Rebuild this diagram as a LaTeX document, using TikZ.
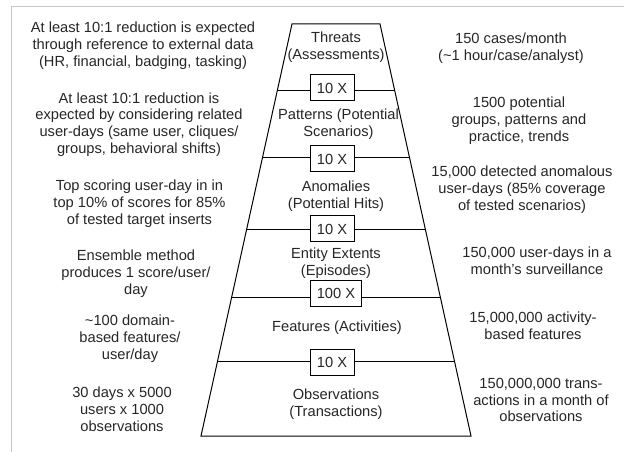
\documentclass[tikz,border=0pt]{standalone}
\usepackage{fontspec}
\setmainfont{Liberation Sans}
\usetikzlibrary{calc}

\tikzset{every picture/.style={line width=0.75pt}}
\tikzset{
  lbl/.style={align=center, inner sep=0.75pt, text=black!85, font=\fontsize{11}{12.6}\selectfont},
  ratiobox/.style={draw, fill=white, inner sep=0pt, minimum width=33pt, minimum height=19.5pt, text=black!85, font=\fontsize{11}{12.6}\selectfont},
}

\begin{document}
\begin{tikzpicture}[x=0.75pt,y=0.75pt,yscale=-1,xscale=1]
    \useasboundingbox (0,0) rectangle (624,452);

    %Frame lines
    \draw [color={rgb, 255:red, 200; green, 200; blue, 200 }] (11.5,452) -- (11.5,7) -- (624,7) ;

    %Trapezoid
    \coordinate (tl) at (292,24);
    \coordinate (tr) at (380,24);
    \coordinate (bl) at (201,436);
    \coordinate (br) at (471,436);
    \draw (tl) -- (tr) -- (br) -- (bl) -- cycle ;

    %Edge points of the dividers
    \coordinate (l1) at ($(tl)!0.162!(bl)$);
    \coordinate (r1) at ($(tr)!0.162!(br)$);
    \coordinate (l2) at ($(tl)!0.325!(bl)$);
    \coordinate (r2) at ($(tr)!0.325!(br)$);
    \coordinate (l3) at ($(tl)!0.5!(bl)$);
    \coordinate (r3) at ($(tr)!0.5!(br)$);
    \coordinate (l4) at ($(tl)!0.665!(bl)$);
    \coordinate (r4) at ($(tr)!0.665!(br)$);
    \coordinate (l5) at ($(tl)!0.820!(bl)$);
    \coordinate (r5) at ($(tr)!0.820!(br)$);

    % Ratio boxes
    \node [ratiobox] (x1) at (332,88) {10 X};
    \node [ratiobox] (x2) at (332,159) {10 X};
    \node [ratiobox] (x3) at (332,229) {10 X};
    \node [ratiobox, minimum width=38pt] (x4) at (336,293) {100 X};
    \node [ratiobox] (x5) at (332,362) {10 X};

    %Straight Lines
    \draw (l1) -- (l1 -| x1.west) ;
    \draw (r1) -- (r1 -| x1.east) ;
    \draw (l2) -- (l2 -| x2.west) ;
    \draw (r2) -- (r2 -| x2.east) ;
    \draw (l3) -- (l3 -| x3.west) ;
    \draw (r3) -- (r3 -| x3.east) ;
    \draw (l4) -- (l4 -| x4.west) ;
    \draw (r4) -- (r4 -| x4.east) ;
    \draw (l5) -- (l5 -| x5.west) ;
    \draw (r5) -- (r5 -| x5.east) ;

    % Level Nodes
    \node [lbl] (threats) at (336,47) {Threats\\(Assessments)};
    \node [lbl] (patterns) at (338.5,124.5) {Patterns (Potential\\Scenarios)};
    \node [lbl] (anomalies) at (336,196) {Anomalies\\(Potential Hits)};
    \node [lbl] (extents) at (336,263) {Entity Extents\\(Episodes)};
    \node [lbl] (features) at (337,328) {Features (Activities)};
    \node [lbl] (observations) at (336,404) {Observations\\(Transactions)};

    % Left Text Nodes
    \node [lbl] (lnote1) at (143,46) {At least 10:1 reduction is expected\\through reference to external data\\(HR, financial, badging, tasking)};
    \node [lbl] (lnote2) at (139,124.5) {At least 10:1 reduction is\\expected by considering related\\user-days (same user, cliques/\\groups, behavioral shifts)};
    \node [lbl] (lnote3) at (139.5,203.5) {Top scoring user-day in in\\top 10\% of scores for 85\%\\of tested target inserts};
    \node [lbl] (lnote4) at (136,274) {Ensemble method\\produces 1 score/user/\\day};
    \node [lbl] (lnote5) at (130,339) {\textasciitilde100 domain-\\based features/\\user/day};
    \node [lbl] (lnote6) at (122,409) {30 days x 5000\\users x 1000\\observations};

    % Right Text Nodes
    \node [lbl] (rnote1) at (511,48) {150 cases/month\\(\textasciitilde1 hour/case/analyst)};
    \node [lbl] (rnote2) at (519,121) {1500 potential\\groups, patterns and\\practice, trends};
    \node [lbl] (rnote3) at (522,190) {15,000 detected anomalous\\user-days (85\% coverage\\of tested scenarios)};
    \node [lbl] (rnote4) at (537,260.5) {150,000 user-days in a\\month’s surveillance};
    \node [lbl] (rnote5) at (533,325.5) {15,000,000 activity-\\based features};
    \node [lbl] (rnote6) at (541,400) {150,000,000 trans-\\actions in a month of\\observations};
\end{tikzpicture}
\end{document}
